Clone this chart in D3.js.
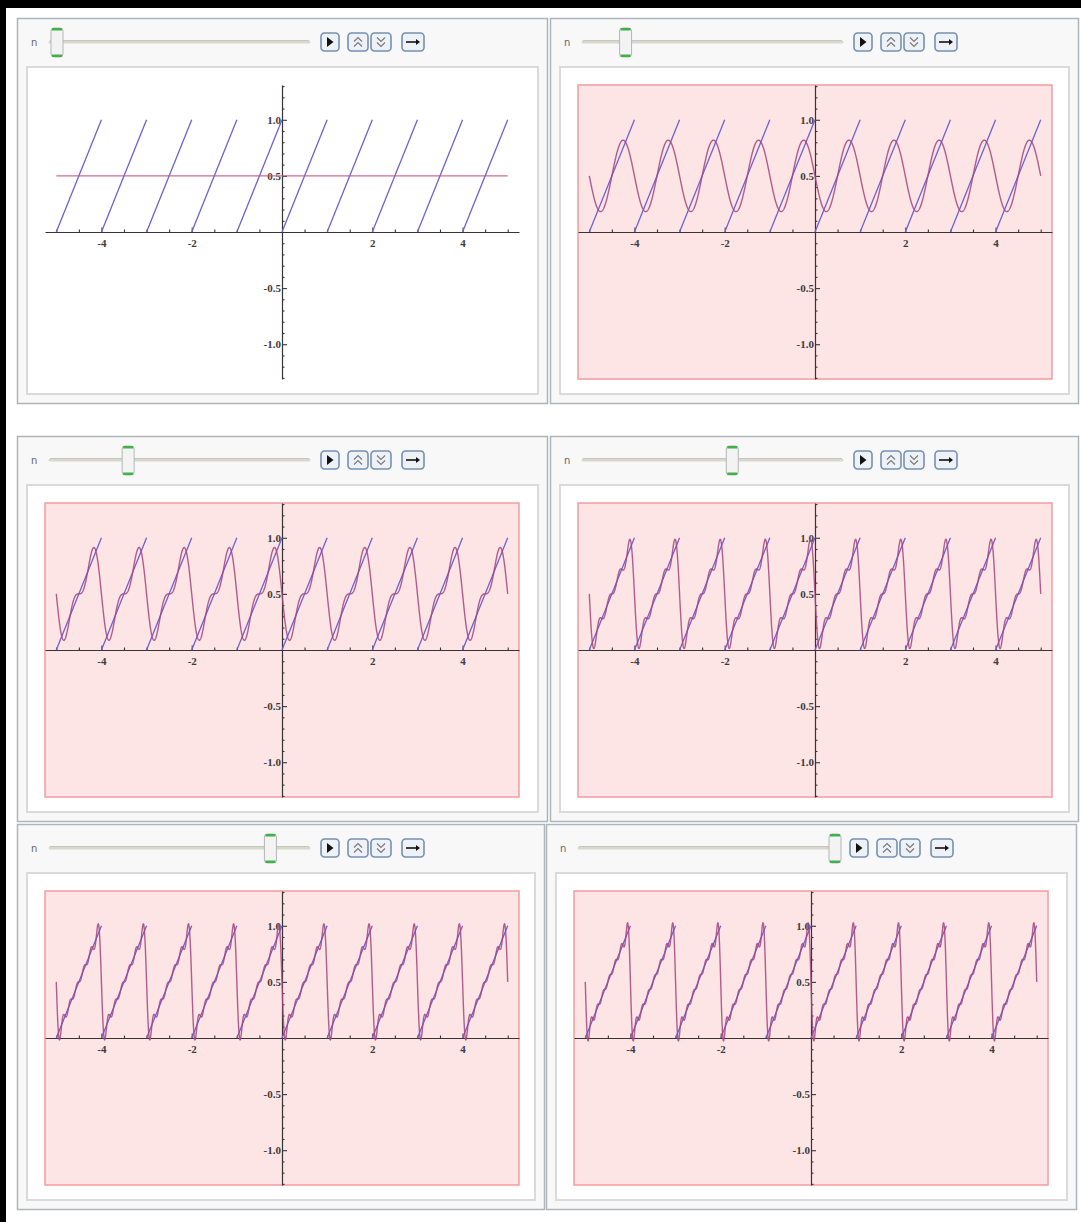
<!DOCTYPE html>
<html>
<head>
<meta charset="utf-8">
<script src="https://cdn.jsdelivr.net/npm/d3@7"></script>
<style>
  body { margin: 0; background: #fff; }
  text { font-family: "Liberation Serif", "DejaVu Serif", serif; }
</style>
</head>
<body>
<svg id="chart" width="1081" height="1222"></svg>
<script>

// slider value n shown in each of the six frames (read from the thumb positions)
var panelN = [0, 1, 2, 4, 6, 7];
var sliderMax = 7;

// sawtooth frac(x): each tooth rises from (start, 0) to (start + 1, 1)
var toothStarts = [-5, -4, -3, -2, -1, 0, 1, 2, 3, 4];
var toothRise = [0, 1];

// Fourier partial sum of the sawtooth: mean minus sine harmonics with these amplitudes
var meanValue = 0.5;
var sineAmps = [0.3183, 0.1592, 0.1061, 0.0796, 0.0637, 0.0531, 0.0455];

var xDomain = [-5.25, 5.25];
var yDomain = [-1.31, 1.31];
var xTickLabels = [-4, -2, 2, 4];
var yTickLabels = [-1.0, -0.5, 0.5, 1.0];
var xMinorTicks = [-5, -4.5, -3.5, -3, -2.5, -1.5, -1, -0.5, 0.5, 1, 1.5, 2.5, 3, 3.5, 4.5, 5];
var yMinorTicks = [-1.3, -1.2, -1.1, -0.9, -0.8, -0.7, -0.6, -0.4, -0.3, -0.2, -0.1,
                   0.1, 0.2, 0.3, 0.4, 0.6, 0.7, 0.8, 0.9, 1.1, 1.2, 1.3];

var boxes = [
  {x: 17,  y: 18,  w: 531},
  {x: 550, y: 18,  w: 529},
  {x: 17,  y: 436, w: 531},
  {x: 550, y: 436, w: 529},
  {x: 17,  y: 824, w: 528},
  {x: 546, y: 824, w: 531}
];
var boxH = 386;

var svg = d3.select('#chart');

// black frame of the screenshot
svg.append('rect').attr('x', 0).attr('y', 0).attr('width', 1081).attr('height', 8).attr('fill', '#000');
svg.append('rect').attr('x', 0).attr('y', 0).attr('width', 6).attr('height', 1222).attr('fill', '#000');

function partialSum(x, n) {
   var s = meanValue;
   for (var k = 1; k <= n; k++) {
      s -= sineAmps[k - 1] * Math.sin(2 * Math.PI * k * x);
   }
   return s;
}

function drawControls(g, b, n) {
   g.append('text')
      .attr('x', 14).attr('y', 28)
      .style('font-family', 'DejaVu Sans, sans-serif')
      .style('font-size', '10px')
      .attr('fill', '#666')
      .text('n');

   var slider = d3.scaleLinear().domain([0, sliderMax]).range([40, 289]);

   g.append('line')
      .attr('x1', 33).attr('x2', 292).attr('y1', 24).attr('y2', 24)
      .attr('stroke', '#d8d8ce').attr('stroke-width', 3).attr('stroke-linecap', 'round');
   g.append('line')
      .attr('x1', 33).attr('x2', 292).attr('y1', 22.5).attr('y2', 22.5)
      .attr('stroke', '#bdbdb4').attr('stroke-width', 0.8);

   var tx = slider(n);
   g.append('rect')
      .attr('x', tx - 6).attr('y', 10).attr('width', 12).attr('height', 29).attr('rx', 3)
      .attr('fill', '#f3f3f3').attr('stroke', '#b5b5b5').attr('stroke-width', 1);
   g.append('rect')
      .attr('x', tx - 5).attr('y', 10).attr('width', 10).attr('height', 2.5)
      .attr('fill', '#3fb24a');
   g.append('rect')
      .attr('x', tx - 5).attr('y', 36.5).attr('width', 10).attr('height', 2.5)
      .attr('fill', '#3fb24a');

   var buttons = [
      {x: 304, w: 18, kind: 'play'},
      {x: 331, w: 20, kind: 'up'},
      {x: 354, w: 20, kind: 'down'},
      {x: 385, w: 22, kind: 'arrow'}
   ];
   buttons.forEach(function(bt) {
      var bg = g.append('g').attr('transform', 'translate(' + bt.x + ',15)');
      bg.append('rect')
         .attr('width', bt.w).attr('height', 18).attr('rx', 3.5)
         .attr('fill', '#eef2f7').attr('stroke', '#7491b3').attr('stroke-width', 1.6);
      var cx = bt.w / 2, cy = 9;
      if (bt.kind === 'play') {
         bg.append('path')
            .attr('d', 'M' + (cx - 3) + ',' + (cy - 5) + 'L' + (cx + 3.5) + ',' + cy + 'L' + (cx - 3) + ',' + (cy + 5) + 'Z')
            .attr('fill', '#111');
      } else if (bt.kind === 'up' || bt.kind === 'down') {
         var s = bt.kind === 'up' ? 1 : -1;
         [-2.5, 2.5].forEach(function(o) {
            bg.append('path')
               .attr('d', 'M' + (cx - 4) + ',' + (cy + o + 2 * s) + 'L' + cx + ',' + (cy + o - 2 * s) + 'L' + (cx + 4) + ',' + (cy + o + 2 * s))
               .attr('fill', 'none').attr('stroke', '#777').attr('stroke-width', 1.1);
         });
      } else {
         bg.append('line')
            .attr('x1', cx - 7).attr('x2', cx + 4).attr('y1', cy).attr('y2', cy)
            .attr('stroke', '#111').attr('stroke-width', 1.6);
         bg.append('path')
            .attr('d', 'M' + (cx + 7) + ',' + cy + 'L' + (cx + 3) + ',' + (cy - 3) + 'L' + (cx + 3) + ',' + (cy + 3) + 'Z')
            .attr('fill', '#111');
      }
   });
}

function drawPlot(g, n, shaded) {
   var x = d3.scaleLinear().domain(xDomain).range([28, 502]);
   var y = d3.scaleLinear().domain(yDomain).range([361, 67]);

   if (shaded) {
      g.append('rect')
         .attr('x', x(xDomain[0])).attr('y', y(yDomain[1]))
         .attr('width', x(xDomain[1]) - x(xDomain[0]))
         .attr('height', y(yDomain[0]) - y(yDomain[1]))
         .attr('fill', '#fde4e5').attr('stroke', '#f49c9e').attr('stroke-width', 1.5);
   }

   // x axis: major ticks pointing up, minor ticks between
   g.append('g')
      .attr('transform', 'translate(0,' + y(0) + ')')
      .call(d3.axisBottom(x).tickValues(xMinorTicks).tickSize(-2.5).tickSizeOuter(0).tickFormat(''))
      .call(function(a) { a.select('.domain').remove(); });
   g.append('g')
      .attr('transform', 'translate(0,' + y(0) + ')')
      .call(d3.axisBottom(x).tickValues(xTickLabels).tickSize(-4.5).tickSizeOuter(0).tickPadding(7)
            .tickFormat(function(d) { return String(d); }));

   g.append('g')
      .attr('transform', 'translate(' + x(0) + ',0)')
      .call(d3.axisLeft(y).tickValues(yTickLabels).tickSize(-5).tickSizeOuter(0).tickPadding(1)
            .tickFormat(function(d) { return d.toFixed(1); }));
   g.append('g')
      .attr('transform', 'translate(' + x(0) + ',0)')
      .call(d3.axisLeft(y).tickValues(yMinorTicks).tickSize(-2.5).tickSizeOuter(0).tickFormat(''))
      .call(function(a) { a.select('.domain').remove(); });

   g.selectAll('.domain').attr('stroke', '#3a3333').attr('stroke-width', 1.2);
   g.selectAll('.tick line').attr('stroke', '#3a3333').attr('stroke-width', 1.1);
   g.selectAll('.tick text')
      .style('font-family', 'Liberation Serif, serif')
      .style('font-size', '11px')
      .style('font-weight', 'bold')
      .attr('fill', '#3c3c3c');

   var line = d3.line()
      .x(function(d) { return x(d[0]); })
      .y(function(d) { return y(d[1]); });

   g.selectAll('.tooth')
      .data(toothStarts)
      .enter().append('path')
      .attr('class', 'tooth')
      .attr('d', function(s) { return line([[s, toothRise[0]], [s + 1, toothRise[1]]]); })
      .attr('fill', 'none')
      .attr('stroke', '#6d62d6')
      .attr('stroke-width', 1.3);

   var xs = d3.range(toothStarts[0], toothStarts[toothStarts.length - 1] + 1.0001, 0.004);
   g.append('path')
      .datum(xs.map(function(v) { return [v, partialSum(v, n)]; }))
      .attr('d', line)
      .attr('fill', 'none')
      .attr('stroke', n === 0 ? '#c4527f' : '#a4447e')
      .attr('stroke-opacity', 0.85)
      .attr('stroke-width', 1.4);
}

boxes.forEach(function(b, i) {
   var g = svg.append('g').attr('transform', 'translate(' + b.x + ',' + b.y + ')');

   g.append('rect')
      .attr('x', 0.5).attr('y', 0.5).attr('width', b.w - 1).attr('height', boxH - 1)
      .attr('fill', '#f8f8f8').attr('stroke', '#aeb5ba').attr('stroke-width', 1.5);

   g.append('rect')
      .attr('x', 10).attr('y', 49).attr('width', b.w - 20).attr('height', boxH - 59)
      .attr('fill', '#fff').attr('stroke', '#dadada').attr('stroke-width', 2);

   drawControls(g, b, panelN[i]);
   drawPlot(g, panelN[i], panelN[i] > 0);
});

</script>
</body>
</html>
